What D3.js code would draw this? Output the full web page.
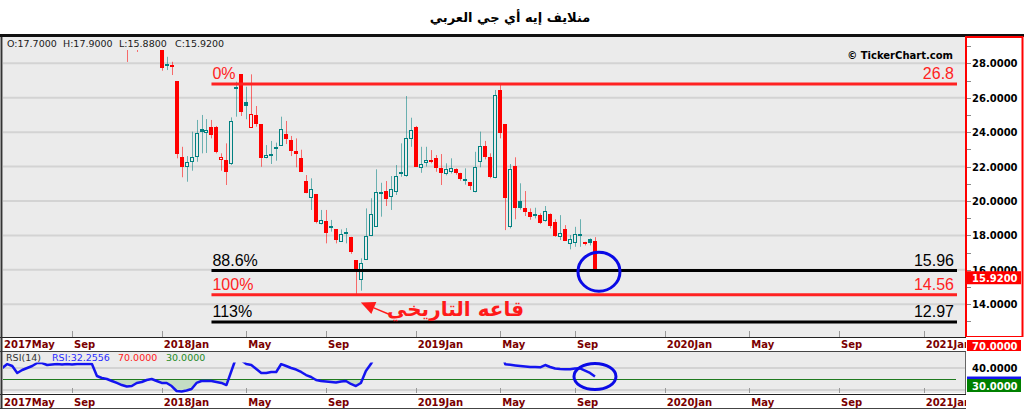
<!DOCTYPE html>
<html><head><meta charset="utf-8">
<script src="https://cdn.jsdelivr.net/npm/d3@7"></script>
<style>body{margin:0;background:#fff;}svg{display:block;}</style>
</head><body>
<svg id="c" width="1024" height="409"></svg>
<script>
// ---------------- DATA ----------------
const title = "منلايف إيه أي جي العربي";
const anchorDate = "2018-01-07";
const closedWeeks = ["2018-06-17", "2019-06-02", "2019-08-11"];
const domainDates = ["2017-05-28", "2021-03-07"];
// weekly candles: date, open, high, low, close
const candles = [
["2017-11-19",29.30,29.50,28.08,28.95],
["2017-12-03",29.60,29.90,28.66,28.90],
["2018-01-07",29.00,29.10,27.57,27.71],
["2018-01-14",27.94,28.38,27.61,27.83],
["2018-01-21",27.90,28.09,27.32,27.80],
["2018-01-28",26.97,26.97,22.48,22.73],
["2018-02-04",22.57,23.15,21.38,21.99],
["2018-02-11",21.96,22.61,21.12,22.28],
["2018-02-18",22.28,24.03,21.76,22.54],
["2018-02-25",22.57,24.71,22.28,23.97],
["2018-03-04",24.17,25.00,22.77,24.03],
["2018-03-11",23.93,24.76,22.79,24.12],
["2018-03-18",24.28,24.71,23.64,23.83],
["2018-03-25",24.28,24.36,22.77,22.86],
["2018-04-01",22.40,22.77,21.76,22.57],
["2018-04-08",22.38,23.35,20.93,21.70],
["2018-04-15",22.13,24.86,22.09,24.65],
["2018-04-22",26.55,26.93,24.90,26.64],
["2018-04-29",27.36,27.36,24.94,25.19],
["2018-05-06",25.77,26.64,24.75,25.54],
["2018-05-13",24.26,27.36,24.26,25.04],
["2018-05-20",25.00,25.52,24.32,24.46],
["2018-05-27",24.47,24.47,21.99,22.48],
["2018-06-03",22.50,23.25,22.48,22.67],
["2018-06-10",22.70,23.49,22.15,22.75],
["2018-06-24",23.15,23.39,22.34,23.00],
["2018-07-01",23.21,24.90,23.21,24.16],
["2018-07-08",23.89,24.65,23.31,23.58],
["2018-07-15",23.54,23.78,22.61,22.92],
["2018-07-22",22.92,23.64,21.96,22.71],
["2018-07-29",22.48,22.98,21.70,21.70],
["2018-08-05",21.16,21.51,20.45,20.48],
["2018-08-12",20.16,21.32,19.48,20.70],
["2018-08-19",20.41,20.41,18.70,18.80],
["2018-08-26",18.64,19.48,18.64,18.89],
["2018-09-02",18.86,19.48,17.54,18.12],
["2018-09-09",18.54,18.90,18.22,18.45],
["2018-09-16",18.35,18.35,17.54,17.73],
["2018-09-23",17.63,18.35,17.63,18.08],
["2018-09-30",18.22,18.43,17.54,18.12],
["2018-10-07",17.92,17.92,16.93,17.05],
["2018-10-14",16.57,16.57,14.56,16.00],
["2018-10-21",15.41,16.67,14.79,16.38],
["2018-10-28",16.57,19.57,16.57,17.96],
["2018-11-04",17.96,20.16,17.96,19.23],
["2018-11-11",18.51,21.84,18.51,20.50],
["2018-11-18",20.50,21.06,19.09,20.55],
["2018-11-25",20.58,21.16,19.71,20.11],
["2018-12-02",20.25,21.45,19.48,20.68],
["2018-12-09",20.54,22.09,20.35,21.47],
["2018-12-16",21.55,23.35,21.41,21.67],
["2018-12-23",21.47,26.10,21.41,23.64],
["2018-12-30",23.58,24.84,23.15,24.12],
["2019-01-06",24.28,24.36,22.00,22.00],
["2019-01-13",21.90,23.15,21.64,22.13],
["2019-01-20",22.22,23.15,22.00,22.38],
["2019-01-27",22.40,22.96,22.19,22.30],
["2019-02-03",22.48,22.67,21.70,21.90],
["2019-02-10",21.93,22.73,20.93,21.64],
["2019-02-17",21.55,22.19,21.49,21.86],
["2019-02-24",21.67,22.48,21.60,21.90],
["2019-03-03",21.84,21.90,21.53,21.64],
["2019-03-10",21.61,21.64,21.18,21.26],
["2019-03-17",21.26,21.90,20.95,21.30],
["2019-03-24",21.10,21.10,20.64,20.87],
["2019-03-31",20.50,22.86,20.50,21.99],
["2019-04-07",22.25,24.03,21.96,23.21],
["2019-04-14",23.21,23.49,22.42,22.57],
["2019-04-21",22.54,22.77,21.32,21.38],
["2019-04-28",21.32,26.45,21.32,26.16],
["2019-05-05",26.45,26.80,23.64,23.93],
["2019-05-12",24.47,24.47,18.31,20.16],
["2019-05-19",18.51,22.15,18.41,21.86],
["2019-05-26",22.03,22.54,18.94,19.57],
["2019-06-09",20.00,21.03,19.50,19.62],
["2019-06-16",19.61,20.58,19.13,19.34],
["2019-06-23",19.34,19.57,18.91,19.09],
["2019-06-30",19.25,19.61,18.99,19.20],
["2019-07-07",19.18,19.28,18.66,18.74],
["2019-07-14",18.84,19.71,18.80,19.44],
["2019-07-21",19.23,19.28,18.41,18.56],
["2019-07-28",18.80,18.94,17.92,17.98],
["2019-08-04",17.92,19.18,17.73,18.12],
["2019-08-18",18.37,18.60,17.69,17.69],
["2019-08-25",17.48,18.02,17.19,17.77],
["2019-09-01",17.57,18.50,17.34,18.06],
["2019-09-08",18.10,18.94,17.34,18.07],
["2019-09-15",17.63,17.63,17.42,17.48],
["2019-09-22",17.77,17.83,17.42,17.54],
["2019-09-29",17.70,17.90,15.88,15.92]
];
// RSI(14), one value per weekly bar starting at rsiStart
const rsiStart = "2017-05-28";
const rsiValues = [
40.0,43.6,41.8,35.5,38.2,40.0,41.8,44.5,44.5,42.7,43.2,43.6,43.2,43.6,43.2,43.6,43.6,43.6,43.6,32.7,
30.9,30.0,28.2,26.4,24.5,23.2,23.6,26.4,27.3,29.1,30.0,28.2,
26.4,26.4,23.6,19.1,18.6,19.5,20.9,26.4,28.2,28.2,28.2,27.3,26.4,24.5,37.3,50.0,47.0,43.6,42.7,39.1,
35.5,35.5,36.4,36.4,43.6,41.8,40.0,38.6,36.4,33.6,31.8,29.1,28.2,27.7,27.3,26.8,27.7,28.2,25.5,23.6,
26.4,37.3,43.6,
52,53,51,53,56,57,63,64,55,55,56,55,53,51,52,52,51,50,50,48,52,56,54,50,65,58,
43.4,42.9,42.3,41.8,41.4,40.9,40.9,40.6,42.7,40.9,39.5,39.1,38.9,38.8,39.5,39.7,37.7,35.5,32.2556
];
const rsiLevels = [70, 30];
const rsiGrid = [20, 40];
const rsiAxisLabels = [40];
const fibHigh = 26.8, fibLow = 14.56;
const fibRatios = [0, 0.886, 1, 1.13];
const fibStartDate = "2018-03-18";
const priceTicks = [14, 16, 18, 20, 22, 24, 26, 28];
const priceMinorTicks = [13,14,15,16,17,18,19,20,21,22,23,24,25,26,27,28,29];
const monthTicks = [
["2017-05-07","2017May"],["2017-09-03","Sep"],["2018-01-07","2018Jan"],["2018-05-06","May"],
["2018-09-02","Sep"],["2019-01-06","2019Jan"],["2019-05-05","May"],["2019-09-01","Sep"],
["2020-01-05","2020Jan"],["2020-05-03","May"],["2020-09-06","Sep"],["2021-01-03","2021Jan"]
];
const annotationText = "قاعه التاريخي";
const arrowTail = ["2018-12-02", 13.38];
const arrowHead = ["2018-10-21", 14.10];
const annotationAt = ["2019-03-03", 13.30];

// ---------------- HELPERS ----------------
const parse = d3.timeParse("%Y-%m-%d");
const WEEK = 7 * 864e5;
const anchor = parse(anchorDate);
const closed = closedWeeks.map(parse);
function barIndex(s) {
  const d = typeof s === "string" ? parse(s) : s;
  let w = Math.round((d - anchor) / WEEK);
  closed.forEach(c => { if (c > anchor && c <= d) w -= 1; });
  return w;
}

const svg = d3.select("#c");
const W = 1024;
const plotL = 3, plotR = 966, mainTop = 37, mainBot = 337, rsiTop = 351, rsiBot = 393;
const BG = "#ebebeb", TEAL = "#008080", RED = "#ff0000";

const x = d3.scaleLinear().domain(domainDates.map(barIndex)).range([2.3, 968.5]);
const y = d3.scaleLinear().domain([12, 30]).range([338.7, 28.9]);
const yR = d3.scaleLinear().domain([20, 40]).range([390, 368]);

// backgrounds
svg.append("rect").attr("width", W).attr("height", 409).attr("fill", "#fff");
svg.append("rect").attr("x", plotL).attr("y", mainTop).attr("width", plotR - plotL).attr("height", mainBot - mainTop).attr("fill", BG);
svg.append("rect").attr("x", plotL).attr("y", rsiTop).attr("width", plotR - plotL).attr("height", rsiBot - rsiTop).attr("fill", BG);

// title
svg.append("text").attr("x", 510).attr("y", 22).attr("text-anchor", "middle")
  .attr("font-family", "DejaVu Sans").attr("font-weight", "bold").attr("font-size", 13).attr("fill", "#000")
  .text(title);
svg.append("rect").attr("x", 0).attr("y", 34).attr("width", W).attr("height", 3).attr("fill", "#111");

const defs = svg.append("defs");
defs.append("clipPath").attr("id", "clipMain").append("rect")
  .attr("x", plotL).attr("y", mainTop).attr("width", plotR - plotL).attr("height", mainBot - mainTop);
defs.append("clipPath").attr("id", "clipRsi").append("rect")
  .attr("x", plotL).attr("y", rsiTop).attr("width", plotR - plotL).attr("height", rsiBot - rsiTop);
defs.append("clipPath").attr("id", "clipBelow30").append("rect")
  .attr("x", plotL).attr("y", yR(30)).attr("width", plotR - plotL).attr("height", rsiBot - yR(30));
defs.append("clipPath").attr("id", "clipBand").append("rect")
  .attr("x", 0).attr("y", 330).attr("width", plotR).attr("height", 80);

// ---------------- MAIN PANEL ----------------
const gMain = svg.append("g").attr("clip-path", "url(#clipMain)");
gMain.selectAll("line.grid").data(priceTicks).join("line")
  .attr("x1", plotL).attr("x2", plotR).attr("y1", d => y(d)).attr("y2", d => y(d))
  .attr("stroke", "#d3d3d3").attr("stroke-width", 2);

// candles
const cdata = candles.map((r, i) => {
  const [date, o, h, l, c] = r;
  const prev = i > 0 ? candles[i - 1][4] : o;
  return { i: barIndex(date), o, h, l, c, up: c >= prev, hollow: c >= o };
});
const cg = gMain.append("g");
cdata.forEach(d => {
  const cx = Math.round(x(d.i));
  const col = d.up ? TEAL : RED;
  cg.append("line").attr("x1", cx + 0.5).attr("x2", cx + 0.5).attr("y1", y(d.h)).attr("y2", y(d.l))
    .attr("stroke", col).attr("stroke-opacity", 0.55).attr("stroke-width", 1);
  const top = y(Math.max(d.o, d.c)), bot = y(Math.min(d.o, d.c));
  if (d.hollow) {
    cg.append("rect").attr("x", cx - 1.5).attr("y", Math.round(top) + 0.5).attr("width", 3)
      .attr("height", Math.max(1, Math.round(bot) - Math.round(top) - 1))
      .attr("fill", BG).attr("stroke", col).attr("stroke-width", 1);
  } else {
    cg.append("rect").attr("x", cx - 2).attr("y", Math.round(top)).attr("width", 4)
      .attr("height", Math.max(2, Math.round(bot) - Math.round(top))).attr("fill", col);
  }
});

// fibonacci levels
const fx1 = x(barIndex(fibStartDate)), fx2 = plotR - 9;
fibRatios.forEach(r => {
  const v = fibHigh - r * (fibHigh - fibLow);
  const col = (r === 0 || r === 1) ? "#ff2222" : "#000";
  gMain.append("line").attr("x1", fx1).attr("x2", fx2).attr("y1", y(v)).attr("y2", y(v))
    .attr("stroke", col).attr("stroke-width", 3);
  gMain.append("text").attr("x", fx1 + 1).attr("y", y(v) - 5)
    .attr("font-family", "Liberation Sans, Arial").attr("font-size", 16).attr("fill", col)
    .text(`${+(r * 100).toFixed(1)}%`);
  gMain.append("text").attr("x", fx2 - 3).attr("y", y(v) - 5).attr("text-anchor", "end")
    .attr("font-family", "Liberation Sans, Arial").attr("font-size", 16).attr("fill", col)
    .text(`${+v.toFixed(2)}`);
});

// x-axis tick marks (main)
const tickData = monthTicks.map(([d, lab]) => ({ x: x(barIndex(d)), lab }));
gMain.selectAll("line.xt").data(tickData.filter(t => t.x > plotL + 1)).join("line")
  .attr("x1", d => Math.round(d.x) + 0.5).attr("x2", d => Math.round(d.x) + 0.5)
  .attr("y1", mainBot - 6).attr("y2", mainBot).attr("stroke", "#999");

// blue circle at last candle
const last = cdata[cdata.length - 1];
gMain.append("ellipse").attr("cx", x(last.i) + 4).attr("cy", y(last.c) + 0.5)
  .attr("rx", 21).attr("ry", 19.5).attr("fill", "none").attr("stroke", "#0a0ae6").attr("stroke-width", 3);

// annotation arrow + text
const ax1 = x(barIndex(arrowTail[0])), ay1 = y(arrowTail[1]);
const ax2 = x(barIndex(arrowHead[0])), ay2 = y(arrowHead[1]);
const ang = Math.atan2(ay2 - ay1, ax2 - ax1);
const hl = 14, hw = 6.5;
const bx = ax2 - hl * Math.cos(ang), by = ay2 - hl * Math.sin(ang);
gMain.append("line").attr("x1", ax1).attr("y1", ay1).attr("x2", bx).attr("y2", by)
  .attr("stroke", "#ff1a1a").attr("stroke-width", 1.5);
gMain.append("path").attr("fill", "#ff1a1a").attr("d",
  `M${ax2},${ay2}L${bx + hw * Math.sin(ang)},${by - hw * Math.cos(ang)}L${bx - hw * Math.sin(ang)},${by + hw * Math.cos(ang)}Z`);
gMain.append("text").attr("x", x(barIndex(annotationAt[0]))).attr("y", y(annotationAt[1]))
  .attr("text-anchor", "middle").attr("font-family", "DejaVu Sans").attr("font-weight", "bold")
  .attr("font-size", 20).attr("fill", "#ff1a1a").text(annotationText);

// legend strip & text
svg.append("rect").attr("x", plotL).attr("y", mainTop).attr("width", plotR - plotL).attr("height", 13).attr("fill", BG);
const q = cdata[cdata.length - 1];
const legend = [["O", q.o], ["H", q.h], ["L", q.l], ["C", q.c]];
legend.forEach(([k, v], i) => {
  svg.append("text").attr("x", 7 + i * 56).attr("y", 47)
    .attr("font-family", "DejaVu Sans").attr("font-size", 9.5).attr("fill", "#1a1a1a")
    .text(`${k}:${v.toFixed(4)}`);
});
svg.append("text").attr("x", 953).attr("y", 59).attr("text-anchor", "end")
  .attr("font-family", "DejaVu Sans").attr("font-weight", "bold").attr("font-size", 10).attr("fill", "#000")
  .text("© TickerChart.com");

// ---------------- RIGHT PRICE AXIS ----------------
svg.append("rect").attr("x", 966).attr("y", mainTop).attr("width", 56.5).attr("height", mainBot - mainTop)
  .attr("fill", "#fff").attr("stroke", RED).attr("stroke-width", 2);
svg.selectAll("line.pt").data(priceMinorTicks).join("line")
  .attr("x1", 967).attr("x2", 971).attr("y1", d => Math.round(y(d)) + 0.5).attr("y2", d => Math.round(y(d)) + 0.5)
  .attr("stroke", "#888");
svg.selectAll("text.pl").data(priceTicks).join("text")
  .attr("x", 972).attr("y", d => y(d) + 4)
  .attr("font-family", "DejaVu Sans").attr("font-weight", "bold").attr("font-size", 10).attr("fill", "#000")
  .text(d => d.toFixed(4));
svg.append("rect").attr("x", 967).attr("y", y(q.c)).attr("width", 54).attr("height", 13).attr("fill", RED);
svg.append("text").attr("x", 972).attr("y", y(q.c) + 10.5)
  .attr("font-family", "DejaVu Sans").attr("font-weight", "bold").attr("font-size", 10).attr("fill", "#fff")
  .text(q.c.toFixed(4));

// ---------------- RSI PANEL ----------------
const rsiBase = barIndex(rsiStart);
const rsiPts = rsiValues.map((v, k) => ({ i: rsiBase + k, v }));
const gR = svg.append("g").attr("clip-path", "url(#clipRsi)");
gR.selectAll("line.rg").data(rsiGrid).join("line")
  .attr("x1", plotL).attr("x2", plotR).attr("y1", d => yR(d)).attr("y2", d => yR(d))
  .attr("stroke", "#d3d3d3").attr("stroke-width", 2);
gR.append("path").datum(rsiPts).attr("clip-path", "url(#clipBelow30)")
  .attr("fill", "#c4dcc4")
  .attr("d", d3.area().x(d => x(d.i)).y0(yR(30)).y1(d => yR(d.v)));
gR.append("line").attr("x1", plotL).attr("x2", 956).attr("y1", yR(30) + 0.5).attr("y2", yR(30) + 0.5)
  .attr("stroke", "#1f7a1f").attr("stroke-width", 1);
gR.append("path").datum(rsiPts).attr("fill", "none").attr("stroke", "#1414f0").attr("stroke-width", 2.5)
  .attr("stroke-linejoin", "round")
  .attr("d", d3.line().x(d => x(d.i)).y(d => yR(d.v)));
gR.selectAll("line.xt").data(tickData.filter(t => t.x > plotL + 1)).join("line")
  .attr("x1", d => Math.round(d.x) + 0.5).attr("x2", d => Math.round(d.x) + 0.5)
  .attr("y1", rsiBot - 5).attr("y2", rsiBot).attr("stroke", "#999");
// RSI legend strip
svg.append("rect").attr("x", plotL).attr("y", rsiTop).attr("width", plotR - plotL).attr("height", 11.5).attr("fill", BG);
const rsiLast = rsiValues[rsiValues.length - 1];
[["RSI(14)", "#333", 6], [`RSI:${rsiLast.toFixed(4)}`, "#2a2aff", 52],
 [rsiLevels[0].toFixed(4), "#ff1a1a", 118], [rsiLevels[1].toFixed(4), "#1f8a1f", 166]].forEach(([t, c, px]) => {
  svg.append("text").attr("x", px).attr("y", 361).attr("font-family", "DejaVu Sans").attr("font-size", 9.5)
    .attr("fill", c).text(t);
});
// RSI circle
svg.append("ellipse").attr("cx", x(last.i)).attr("cy", yR(rsiLast)).attr("rx", 21).attr("ry", 13)
  .attr("fill", "none").attr("stroke", "#0a0ae6").attr("stroke-width", 3);

// RSI right axis
svg.append("rect").attr("x", 966).attr("y", rsiTop - 14).attr("width", 58).attr("height", 72).attr("fill", "#fff");
svg.append("line").attr("x1", 965.5).attr("x2", 965.5).attr("y1", rsiTop).attr("y2", 409).attr("stroke", "#666");
svg.selectAll("text.rl").data(rsiAxisLabels).join("text")
  .attr("x", 972).attr("y", d => yR(d) + 4)
  .attr("font-family", "DejaVu Sans").attr("font-weight", "bold").attr("font-size", 10).attr("fill", "#000")
  .text(d => d.toFixed(4));
svg.append("rect").attr("x", 967).attr("y", 340).attr("width", 54).attr("height", 11).attr("fill", RED);
svg.append("text").attr("x", 972).attr("y", 349.5).attr("font-family", "DejaVu Sans").attr("font-weight", "bold")
  .attr("font-size", 10).attr("fill", "#fff").text(rsiLevels[0].toFixed(4));
svg.append("rect").attr("x", 967).attr("y", yR(rsiLast)).attr("width", 54).attr("height", 13).attr("fill", "#1414f0");
svg.append("rect").attr("x", 967).attr("y", yR(rsiLevels[1])).attr("width", 54).attr("height", 13).attr("fill", "#008000");
svg.append("text").attr("x", 972).attr("y", yR(rsiLevels[1]) + 10.5).attr("font-family", "DejaVu Sans")
  .attr("font-weight", "bold").attr("font-size", 10).attr("fill", "#fff").text(rsiLevels[1].toFixed(4));

// ---------------- X AXIS BANDS ----------------
[[mainBot, 348], [rsiBot + 1, 406]].forEach(([top, base]) => {
  svg.append("rect").attr("x", plotL).attr("y", top).attr("width", plotR - plotL).attr("height", 14).attr("fill", "#fff");
  svg.append("line").attr("x1", 0).attr("x2", plotR).attr("y1", top + 0.5).attr("y2", top + 0.5).attr("stroke", "#222");
  svg.append("line").attr("x1", 0).attr("x2", plotR).attr("y1", top + 14.5).attr("y2", top + 14.5).attr("stroke", "#444");
  svg.append("g").attr("clip-path", "url(#clipBand)").selectAll("text").data(tickData).join("text")
    .attr("x", d => Math.max(plotL + 1, d.x + 2)).attr("y", base)
    .attr("font-family", "DejaVu Sans").attr("font-weight", "bold").attr("font-size", 10).attr("fill", "#7a0000")
    .text(d => d.lab);
});
svg.append("line").attr("x1", 1.5).attr("x2", 1.5).attr("y1", mainTop).attr("y2", 409).attr("stroke", "#333").attr("stroke-width", 2);
</script>
</body></html>
